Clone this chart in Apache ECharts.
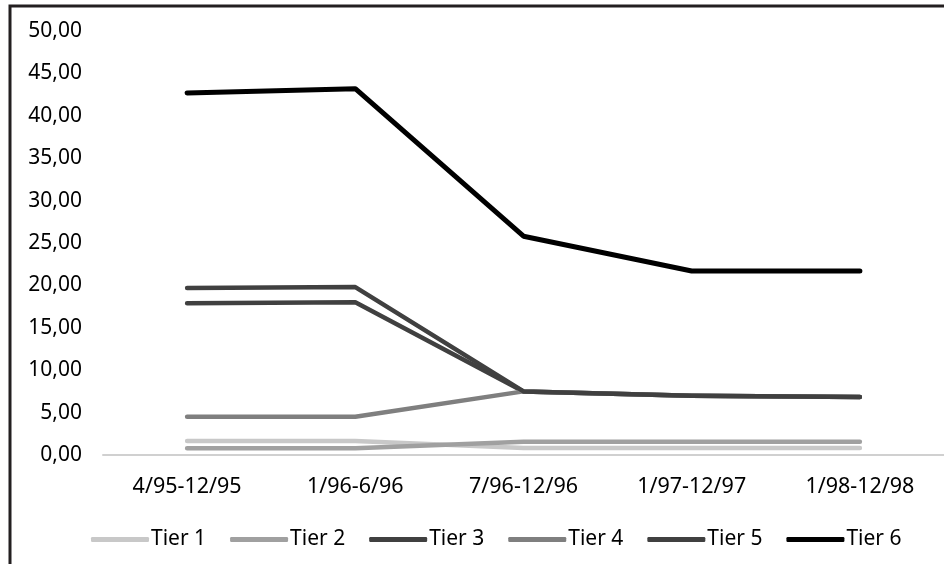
<!DOCTYPE html>
<html>
<head>
<meta charset="utf-8">
<script src="https://cdn.jsdelivr.net/npm/echarts@6/dist/echarts.min.js"></script>
<style>
html,body{margin:0;padding:0;background:#fff;}
#chart{width:944px;height:564px;}
</style>
</head>
<body>
<div id="chart"></div>
<script>
const categories = ['4/95-12/95', '1/96-6/96', '7/96-12/96', '1/97-12/97', '1/98-12/98'];
const tier1 = [1.65, 1.65, 0.83, 0.83, 0.83];
const tier2 = [0.80, 0.80, 1.57, 1.57, 1.57];
const tier3 = [17.9, 18.0, 7.5, 7.0, 6.85];
const tier4 = [4.5, 4.5, 7.5, 7.0, 6.85];
const tier5 = [19.7, 19.8, 7.5, 7.0, 6.85];
const tier6 = [42.7, 43.2, 25.8, 21.7, 21.7];
const seriesNames = ['Tier 1', 'Tier 2', 'Tier 3', 'Tier 4', 'Tier 5', 'Tier 6'];
const seriesData = [tier1, tier2, tier3, tier4, tier5, tier6];
const colors = ['#c8c8c8', '#a0a0a0', '#404040', '#7f7f7f', '#404040', '#000000'];
const widths = [4.5, 4.5, 4.5, 4.5, 4.5, 5];
const yTicks = { min: 0, max: 50, interval: 5 };

const font = 'Noto Sans';
const chart = echarts.init(document.getElementById('chart'), null, { renderer: 'canvas' });
chart.setOption({
  animation: false,
  backgroundColor: '#fff',
  grid: { left: 103, right: 0, top: 31, bottom: 109, containLabel: false },
  legend: {
    bottom: 9,
    left: 86,
    itemWidth: 58,
    itemHeight: 5,
    itemGap: 24,
    icon: 'roundRect',
    textStyle: { fontFamily: font, fontSize: 21, color: '#000', padding: [0, 0, 0, -3] },
    data: seriesNames
  },
  xAxis: {
    type: 'category',
    data: categories,
    boundaryGap: true,
    axisLine: { show: true, lineStyle: { color: '#d0d0d0', width: 2 } },
    axisTick: { show: false },
    axisLabel: { fontFamily: font, fontSize: 21.5, color: '#000', margin: 21 }
  },
  yAxis: {
    type: 'value',
    min: yTicks.min, max: yTicks.max, interval: yTicks.interval,
    splitLine: { show: false },
    axisLine: { show: false },
    axisTick: { show: false },
    axisLabel: {
      fontFamily: font, fontSize: 21, color: '#000', margin: 21,
      formatter: v => v.toFixed(2).replace('.', ',')
    }
  },
  graphic: [
    { type: 'polyline', shape: { points: [[10, 564], [10, 6], [944, 6]] },
      style: { stroke: '#231f20', lineWidth: 3, fill: null }, z: 100 }
  ],
  series: seriesNames.map((n, i) => ({
    name: n,
    type: 'line',
    data: seriesData[i],
    showSymbol: false,
    symbol: 'none',
    color: colors[i],
    lineStyle: { color: colors[i], width: widths[i], cap: 'round', join: 'round' },
    itemStyle: { color: colors[i] },
    z: 2 + i
  }))
});
</script>
</body>
</html>
